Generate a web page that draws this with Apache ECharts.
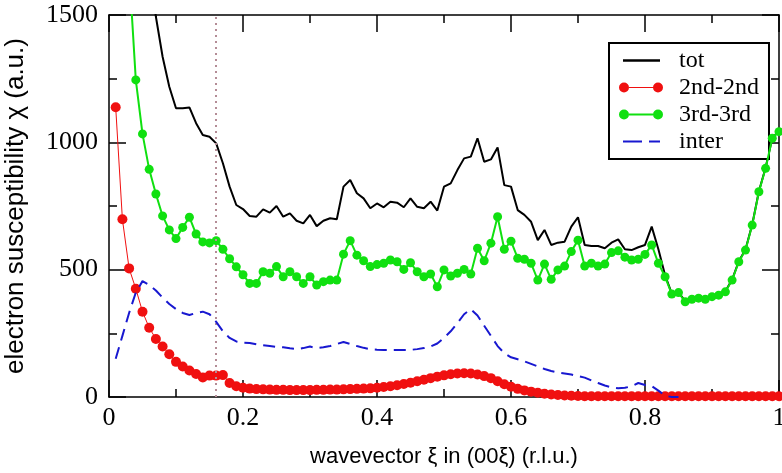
<!DOCTYPE html>
<html><head><meta charset="utf-8">
<script src="https://cdn.jsdelivr.net/npm/echarts@6/dist/echarts.min.js"></script>
<style>html,body{margin:0;padding:0;background:#fff}#c{width:782px;height:473px}</style>
</head><body><div id="c"></div>
<script>
// x grid step (r.l.u.) shared by all series
const STEP = 0.01;

// tot (black), starts at x = 0.06
const totStart = 0.06;
const totValues = [1700,1493,1336,1218,1134,1134,1137,1075,1029,1022,996,918,826,754,
  738,711,708,737,724,750,708,721,692,682,715,671,692,702,698,826,852,800,780,741,
  760,745,767,763,745,780,747,741,767,732,826,839,891,937,944,1016,924,933,980,832,
  826,734,715,688,616,656,597,606,610,669,706,597,593,593,584,606,619,580,577,588,
  597,669,580,478,406,412,376,386,390,386,396,402,415,461,533,579,677,808,900,1018,1044];

// 2nd-2nd (red), starts at x = 0.01
const redStart = 0.01;
const redValues = [1138,698,505,425,335,272,228,198,168,138,120,104,90,77,84,84,86,55,42,
  36,33,31,30,29,28,28,27,27,27,27,28,28,29,29,30,31,32,33,34,36,39,42,46,51,56,62,68,
  74,80,85,89,92,93,92,88,82,74,62,50,40,32,26,21,17,13,10,8,6,5,4,3,3,3,3,3,3,3,3,3,3,
  3,3,3,3,3,3,3,3,3,3,3,3,3,3,3,3,3,3,3,3];

// 3rd-3rd (green), starts at x = 0.02
const greenStart = 0.02;
const greenValues = [2200,1680,1245,1033,894,797,711,656,622,666,706,640,609,605,614,580,
  543,511,480,446,446,492,486,512,472,492,472,446,472,440,453,459,459,561,614,557,535,
  512,520,525,538,531,501,527,492,472,483,433,499,475,486,501,483,584,535,604,708,580,
  612,545,541,525,459,522,462,499,514,571,616,514,525,514,522,567,574,549,538,541,560,
  597,525,472,404,410,374,384,388,384,394,400,413,459,531,577,675,806,898,1016,1042];

// inter (blue dashed), starts at x = 0.01
const interStart = 0.01;
const interValues = [150,240,330,410,455,440,418,390,365,345,330,322,330,335,325,295,258,
  232,218,213,212,207,203,200,197,195,191,188,192,198,192,195,200,208,216,208,200,193,
  188,186,185,185,185,185,185,188,192,198,210,232,258,290,325,345,320,280,240,200,172,
  156,148,140,130,120,110,102,96,92,88,82,76,65,55,45,38,34,36,42,55,47,43,25,5,0,0];

const xTicks = {min: 0, max: 1, interval: 0.2};
const yTicks = {min: 0, max: 1500, interval: 500};
const markerX = 0.16;

function pairs(start, vals) {
  return vals.map((v, i) => [Math.round((start + i * STEP) * 100) / 100, v]);
}

const lineBlack = {color: '#000', width: 1.5};
function frameAxis(extra) {
  return Object.assign({
    type: 'value',
    axisLine: {show: true, onZero: false, lineStyle: lineBlack},
    axisTick: {show: true, inside: true, length: 17, lineStyle: lineBlack},
    minorTick: {show: true, splitNumber: 2, length: 8, lineStyle: lineBlack},
    splitLine: {show: false},
    minorSplitLine: {show: false}
  }, extra);
}

const labelFont = {fontFamily: 'Liberation Serif', fontSize: 26, color: '#000'};
const plain = (v) => String(v);

const circ = (cx) => `M${cx-5},5 A5,5 0 1,0 ${cx+5},5 A5,5 0 1,0 ${cx-5},5 Z`;
const iconTot = 'path://M0,0 L0,0 M4,3.8 L41,3.8 L41,6.2 L4,6.2 Z M44,10 L44,10';
const iconRed = 'path://M0,0 L0,0 ' + circ(5) + ' M10,4.4 L34,4.4 L34,5.6 L10,5.6 Z ' + circ(39) + ' M44,10 L44,10';
const iconGreen = 'path://M0,0 L0,0 ' + circ(5) + ' M10,4 L34,4 L34,6 L10,6 Z ' + circ(39) + ' M44,10 L44,10';
const iconInter = 'path://M0,0 L0,0 M4,4 L23,4 L23,6 L4,6 Z M30,4 L41,4 L41,6 L30,6 Z M44,10 L44,10';

const chart = echarts.init(document.getElementById('c'), null, {renderer: 'canvas'});
chart.setOption({
  animation: false,
  backgroundColor: '#fff',
  grid: {left: 109, right: 3, top: 15, bottom: 76, containLabel: false, outerBoundsMode: 'none'},
  legend: {
    orient: 'vertical', left: 609, top: 43,
    padding: [4, 10, 4, 10], itemGap: 0,
    itemWidth: 44, itemHeight: 10,
    borderColor: '#000', borderWidth: 2, backgroundColor: '#fff',
    selectedMode: false,
    itemStyle: {borderWidth: 0},
    textStyle: {fontFamily: 'Liberation Serif', fontSize: 24, color: '#000', lineHeight: 27, padding: [0, 0, 0, 11]},
    data: [
      {name: 'tot', icon: iconTot},
      {name: '2nd-2nd', icon: iconRed},
      {name: '3rd-3rd', icon: iconGreen},
      {name: 'inter', icon: iconInter}
    ]
  },
  xAxis: [
    frameAxis(Object.assign({}, xTicks, {position: 'bottom',
      axisLabel: Object.assign({margin: 8, formatter: plain}, labelFont),
      name: 'wavevector ξ in (00ξ) (r.l.u.)', nameLocation: 'middle', nameGap: 49,
      nameTextStyle: {fontFamily: 'Liberation Sans', fontSize: 22, color: '#000'}})),
    frameAxis(Object.assign({}, xTicks, {position: 'top', axisLabel: {show: false}}))
  ],
  yAxis: [
    frameAxis(Object.assign({}, yTicks, {position: 'left',
      axisLabel: Object.assign({margin: 11, formatter: plain}, labelFont),
      name: 'electron susceptibility χ (a.u.)', nameLocation: 'middle', nameGap: 80,
      nameTextStyle: {fontFamily: 'Liberation Sans', fontSize: 26, color: '#000'}})),
    frameAxis(Object.assign({}, yTicks, {position: 'right', axisLabel: {show: false}}))
  ],
  series: [
    {name: 'tot', type: 'line', data: pairs(totStart, totValues), symbol: 'none',
     color: '#000', lineStyle: {color: '#000', width: 2}, clip: true, z: 2,
     markLine: {silent: true, symbol: ['none', 'none'], label: {show: false},
       lineStyle: {type: [2, 4], color: '#b48c96', width: 2},
       data: [{xAxis: markerX}]}},
    {name: '2nd-2nd', type: 'line', data: pairs(redStart, redValues), symbol: 'circle', symbolSize: 10,
     color: '#f01010', itemStyle: {color: '#f01010', borderWidth: 0},
     lineStyle: {color: '#f01010', width: 1}, clip: true, z: 3},
    {name: '3rd-3rd', type: 'line', data: pairs(greenStart, greenValues), symbol: 'circle', symbolSize: 9,
     color: '#10e010', itemStyle: {color: '#10e010', borderWidth: 0},
     lineStyle: {color: '#10e010', width: 2}, clip: true, z: 4},
    {name: 'inter', type: 'line', data: pairs(interStart, interValues), symbol: 'none',
     color: '#1818d0', lineStyle: {color: '#1818d0', width: 2, type: [12, 7]}, clip: true, z: 5}
  ]
});
</script>
</body></html>
